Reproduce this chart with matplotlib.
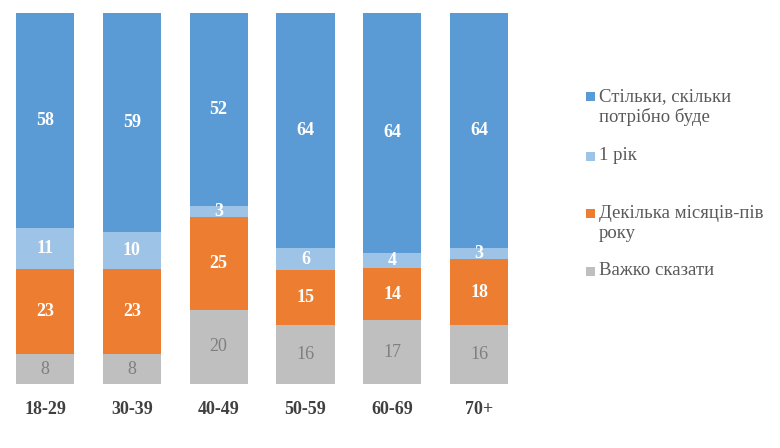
import matplotlib
matplotlib.use("Agg")
import matplotlib.pyplot as plt
from matplotlib.patches import Rectangle
import numpy as np

plt.rcParams['font.family'] = ['Liberation Serif', 'DejaVu Serif']

categories = ["18-29", "30-39", "40-49", "50-59", "60-69", "70+"]
hard_to_say = [8, 8, 20, 16, 17, 16]
few_months = [23, 23, 25, 15, 14, 18]
one_year = [11, 10, 3, 6, 4, 3]
as_needed = [58, 59, 52, 64, 64, 64]

series_names = ["Стільки, скільки\nпотрібно буде", "1 рік",
                "Декілька місяців-пів\nроку", "Важко сказати"]
colors = {"as_needed": "#5B9BD5", "one_year": "#9DC3E6",
          "few_months": "#ED7D31", "hard": "#BFBFBF"}

fig = plt.figure(figsize=(7.8, 4.48), dpi=100)
ax = fig.add_axes([0.002, 0.1429, 0.668, 0.828])

x = np.arange(len(categories))
stack = [(hard_to_say, colors["hard"], "#7F7F7F", "normal"),
         (few_months, colors["few_months"], "white", "bold"),
         (one_year, colors["one_year"], "white", "bold"),
         (as_needed, colors["as_needed"], "white", "bold")]
totals = np.array(hard_to_say) + np.array(few_months) + np.array(one_year) + np.array(as_needed)
bottom = np.zeros(len(categories))
for vals, col, tcol, tw in stack:
    v = np.array(vals, dtype=float)
    h = v / totals * 100
    ax.bar(x, h, bottom=bottom, width=0.67, color=col, linewidth=0)
    for xi, b, hh, val in zip(x, bottom, h, vals):
        ax.text(xi, b + hh / 2, str(val), ha="center", va="center",
                color=tcol, fontsize=13, fontweight=tw)
    bottom += h

ax.set_xlim(-0.5, len(categories) - 0.5)
ax.set_ylim(0, 100)
ax.set_yticks([])
ax.set_xticks(x)
ax.set_xticklabels(categories, fontsize=13, fontweight="bold", color="#404040")
ax.tick_params(axis="x", length=0, pad=12.5)
for s in ax.spines.values():
    s.set_visible(False)

# legend
W, H = 780, 448
legend_items = [(series_names[0], colors["as_needed"], 97),
                (series_names[1], colors["one_year"], 156),
                (series_names[2], colors["few_months"], 214),
                (series_names[3], colors["hard"], 271)]
for label, col, yc in legend_items:
    sq = 9
    fig.patches.append(Rectangle(((586) / W, (H - yc - sq / 2) / H), sq / W, sq / H,
                                 transform=fig.transFigure, color=col, linewidth=0))
    fig.text(599 / W, (H - yc + 9) / H, label, ha="left", va="top",
             fontsize=13.5, color="#595959", linespacing=1.2)

fig.savefig("out.png", dpi=100)
